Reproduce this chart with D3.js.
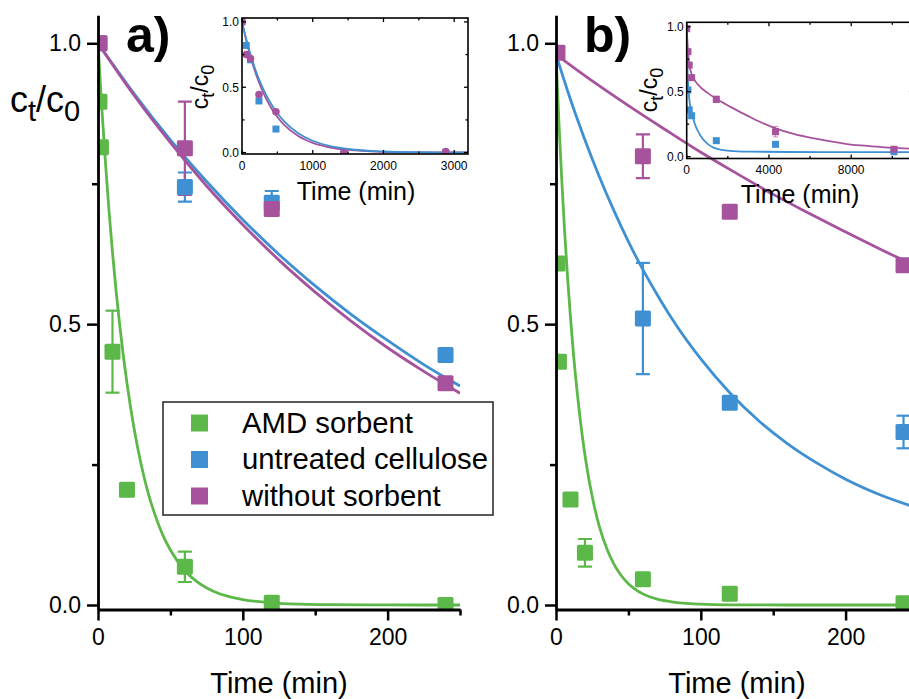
<!DOCTYPE html>
<html>
<head>
<meta charset="utf-8">
<script src="https://cdn.jsdelivr.net/npm/d3@7"></script>
<style>
  html, body { margin: 0; padding: 0; background: #fff; }
  svg { display: block; }
  text { font-family: "Liberation Sans", Arial, sans-serif; fill: #000; }
</style>
</head>
<body>
<svg id="chart" width="909" height="699"></svg>
<script>
// ---------------- DATA ----------------
const seriesNames = ["AMD sorbent", "untreated cellulose", "without sorbent"];
const seriesColors = ["#5cb848", "#3f90d2", "#a6529c"];

// Panel a) measured points
const timeA_amd = [1, 2, 10, 20, 60, 120, 240];
const valA_amd  = [0.896, 0.815, 0.451, 0.205, 0.068, 0.004, 0.0];
const errA_amd  = [0, 0, 0.073, 0.005, 0.027, 0.004, 0];
const timeA_cel = [1, 60, 120, 240];
const valA_cel  = [1.0, 0.744, 0.716, 0.445];
const errA_cel  = [0, 0.026, 0.021, 0];
const timeA_wo  = [1, 60, 120, 240];
const valA_wo   = [1.0, 0.813, 0.705, 0.395];
const errA_wo   = [0, 0.083, 0, 0];

// Panel a) fitted curves (read from picture)
const fitTimeA_amd = [0, 2.5, 5, 7.5, 10, 12.5, 15, 20, 25, 30, 35, 40, 45, 50, 60, 70, 80, 90, 100, 120, 140, 160, 200, 250];
const fitValA_amd  = [1.0, 0.890, 0.793, 0.705, 0.628, 0.559, 0.498, 0.395, 0.313, 0.248, 0.196, 0.156, 0.123, 0.098, 0.061, 0.0386, 0.0242, 0.0152, 0.0096, 0.0038, 0.0015, 0.0006, 0.0001, 0.0];
const fitTimeA_cel = [0, 25, 50, 75, 100, 125, 150, 175, 200, 225, 250];
const fitValA_cel  = [1.0, 0.910, 0.828, 0.754, 0.686, 0.624, 0.568, 0.517, 0.471, 0.428, 0.390];
const fitTimeA_wo  = [0, 25, 50, 75, 100, 125, 150, 175, 200, 225, 250];
const fitValA_wo   = [1.0, 0.907, 0.823, 0.746, 0.677, 0.614, 0.557, 0.505, 0.458, 0.416, 0.377];

// Panel b) measured points
const timeB_amd = [1, 2, 10, 20, 60, 120, 240];
const valB_amd  = [0.608, 0.433, 0.188, 0.093, 0.046, 0.020, 0.003];
const errB_amd  = [0, 0, 0.005, 0.0245, 0.003, 0.004, 0];
const timeB_cel = [60, 120, 240];
const valB_cel  = [0.51, 0.36, 0.308];
const errB_cel  = [0.099, 0.008, 0.029];
const timeB_wo  = [1, 60, 120, 240];
const valB_wo   = [0.983, 0.799, 0.700, 0.605];
const errB_wo   = [0, 0.039, 0.006, 0.006];

// Panel b) fitted curves
const fitTimeB_amd = [0, 2, 4, 6, 8, 10, 12, 15, 18, 21, 25, 30, 35, 40, 45, 50, 60, 70, 80, 100, 120, 160, 250];
const fitValB_amd  = [0.98, 0.860, 0.756, 0.663, 0.583, 0.512, 0.449, 0.370, 0.304, 0.250, 0.193, 0.139, 0.101, 0.0728, 0.0526, 0.038, 0.0198, 0.0104, 0.0054, 0.0015, 0.0004, 0.0, 0.0];
const fitTimeB_cel = [0, 10, 20, 30, 40, 50, 60, 70, 80, 100, 120, 140, 160, 180, 200, 225, 250];
const fitValB_cel  = [0.98, 0.900, 0.828, 0.762, 0.702, 0.647, 0.597, 0.552, 0.510, 0.438, 0.378, 0.328, 0.287, 0.253, 0.224, 0.195, 0.1725];
const fitTimeB_wo  = [0, 25, 50, 75, 100, 125, 150, 175, 200, 225, 250];
const fitValB_wo   = [0.98, 0.933, 0.889, 0.847, 0.806, 0.768, 0.731, 0.697, 0.664, 0.632, 0.602];

// Inset a)
const insetTimeA = [0, 60, 120, 240, 480, 1440, 2880];
const insetValA_cel = [1.0, 0.82, 0.71, 0.395, 0.18, 0.0, 0.0];
const insetValA_wo  = [1.0, 0.751, 0.72, 0.445, 0.312, 0.0, 0.007];
const insetFitTimeA = [0, 100, 200, 300, 400, 500, 600, 800, 1000, 1250, 1500, 2000, 2500, 3000, 3190];
const insetFitA_cel = [1.0, 0.787, 0.619, 0.487, 0.383, 0.301, 0.237, 0.1466, 0.0907, 0.0498, 0.0273, 0.0082, 0.0025, 0.0007, 0.0005];
const insetFitA_wo  = [1.0, 0.771, 0.595, 0.458, 0.353, 0.2725, 0.210, 0.125, 0.0743, 0.0388, 0.0202, 0.0055, 0.0015, 0.0004, 0.0003];

// Inset b)
const insetTimeB_cel = [60, 120, 240, 1440, 4320, 10080];
const insetValB_cel  = [0.513, 0.36, 0.315, 0.123, 0.095, 0.038];
const insetTimeB_wo  = [0, 60, 120, 240, 1440, 4320, 10080];
const insetValB_wo   = [0.985, 0.808, 0.705, 0.608, 0.441, 0.192, 0.057];
const insetErrB_wo   = [0, 0, 0, 0, 0.025, 0.04, 0.01];
const insetFitTimeB_cel = [0, 30, 60, 120, 240, 400, 650, 1000, 1300, 1700, 2100, 3000, 5000, 8000, 11000];
const insetFitB_cel     = [0.98, 0.72, 0.58, 0.45, 0.34, 0.25, 0.167, 0.10, 0.07, 0.053, 0.045, 0.039, 0.036, 0.035, 0.035];
const insetFitTimeB_wo  = [0, 30, 60, 120, 240, 400, 700, 1000, 1440, 2100, 2900, 3600, 4320, 5200, 6200, 7800, 9000, 10100, 11000];
const insetFitB_wo      = [1.0, 0.9, 0.82, 0.72, 0.635, 0.585, 0.53, 0.493, 0.445, 0.385, 0.32, 0.265, 0.218, 0.175, 0.14, 0.097, 0.08, 0.068, 0.06];

// Tick labels
const mainYTicks = [0, 0.5, 1.0];
const mainYMinor = [0.25, 0.75];
const mainXTicks = [0, 100, 200];
const mainXMinor = [50, 150, 250];
const insetAXTicks = [0, 1000, 2000, 3000];
const insetAXMinor = [500, 1500, 2500];
const insetBXTicks = [0, 4000, 8000];
const insetBXMinor = [2000, 6000, 10000];
const insetYTicks = [0, 0.5, 1.0];
const insetYMinor = [0.25, 0.75];

// ---------------- DRAW ----------------
const svg = d3.select("#chart");
const zip = (t, v, e) => t.map((d, i) => ({t: d, v: v[i], e: e ? e[i] : 0}));
const line = (x, y) => d3.line().x(d => x(d.t)).y(d => y(d.v)).curve(d3.curveMonotoneX);

function mainPanel(id, x0, label, pts, fits, showYTitle) {
  const x = d3.scaleLinear().domain([0, 250]).range([x0, x0 + 362]);
  const y = d3.scaleLinear().domain([-0.008, 1.05]).range([609.5, 15.2]);
  const g = svg.append("g");

  g.append("clipPath").attr("id", "clip" + id)
    .append("rect").attr("x", x0).attr("y", 15).attr("width", 362).attr("height", 594.5);

  const plot = g.append("g").attr("clip-path", `url(#clip${id})`);
  // fit curves
  fits.forEach((f, i) => {
    plot.append("path").datum(f).attr("fill", "none")
      .attr("stroke", seriesColors[i]).attr("stroke-width", 2.8)
      .attr("d", line(x, y));
  });
  // error bars first
  pts.forEach((p, i) => {
    const c = seriesColors[i];
    p.filter(d => d.e > 0).forEach(d => {
      const xt = x(d.t), yt = y(d.v + d.e), yb = y(d.v - d.e);
      plot.append("line").attr("x1", xt).attr("x2", xt).attr("y1", yt).attr("y2", yb)
        .attr("stroke", c).attr("stroke-width", 2.2);
      [yt, yb].forEach(yy => plot.append("line").attr("x1", xt - 7).attr("x2", xt + 7)
        .attr("y1", yy).attr("y2", yy).attr("stroke", c).attr("stroke-width", 2.2));
    });
  });
  // squares
  pts.forEach((p, i) => {
    plot.append("g").selectAll("rect").data(p).join("rect")
      .attr("x", d => x(d.t) - 8).attr("y", d => y(d.v) - 8)
      .attr("width", 16).attr("height", 16).attr("rx", 1.5).attr("fill", seriesColors[i]);
  });

  // axes
  const yAxis = d3.axisLeft(y).tickValues(mainYTicks).tickSize(11).tickSizeOuter(0)
    .tickFormat(d3.format(".1f")).tickPadding(6);
  const ya = g.append("g").attr("transform", `translate(${x0},0)`).call(yAxis);
  ya.selectAll("line").attr("stroke-width", 2.5);
  ya.select(".domain").attr("stroke-width", 2.8);
  ya.selectAll("text").attr("font-size", 23).attr("font-family", "Liberation Sans, Arial, sans-serif");
  g.append("g").attr("transform", `translate(${x0},0)`)
    .call(d3.axisLeft(y).tickValues(mainYMinor).tickSize(6).tickSizeOuter(0).tickFormat(""))
    .call(s => s.select(".domain").remove())
    .selectAll("line").attr("stroke-width", 2.5);

  const xAxis = d3.axisBottom(x).tickValues(mainXTicks).tickSize(11).tickSizeOuter(0).tickPadding(8);
  const xa = g.append("g").attr("transform", `translate(0,609.5)`).call(xAxis);
  xa.selectAll("line").attr("stroke-width", 2.5);
  xa.select(".domain").attr("stroke-width", 2.8);
  xa.selectAll("text").attr("font-size", 23).attr("font-family", "Liberation Sans, Arial, sans-serif");
  g.append("g").attr("transform", `translate(0,609.5)`)
    .call(d3.axisBottom(x).tickValues(mainXMinor).tickSize(6).tickSizeOuter(0).tickFormat(""))
    .call(s => s.select(".domain").remove())
    .selectAll("line").attr("stroke-width", 2.5);

  g.append("text").attr("x", x0 + 181).attr("y", 693).attr("text-anchor", "middle")
    .attr("font-size", 29).text("Time (min)");

  g.append("text").attr("x", x0 + 28).attr("y", 52).attr("font-size", 50)
    .attr("font-weight", "bold").text(label);

  if (showYTitle) {
    const t = g.append("text").attr("x", 10).attr("y", 112).attr("font-size", 36);
    t.append("tspan").text("c");
    t.append("tspan").attr("font-size", 29).attr("dy", 9).text("t");
    t.append("tspan").attr("dy", -9).text("/c");
    t.append("tspan").attr("font-size", 29).attr("dy", 9).text("0");
  }
}

mainPanel("A", 98, "a)",
  [zip(timeA_amd, valA_amd, errA_amd), zip(timeA_cel, valA_cel, errA_cel), zip(timeA_wo, valA_wo, errA_wo)],
  [zip(fitTimeA_amd, fitValA_amd), zip(fitTimeA_cel, fitValA_cel), zip(fitTimeA_wo, fitValA_wo)], true);
mainPanel("B", 556, "b)",
  [zip(timeB_amd, valB_amd, errB_amd), zip(timeB_cel, valB_cel, errB_cel), zip(timeB_wo, valB_wo, errB_wo)],
  [zip(fitTimeB_amd, fitValB_amd), zip(fitTimeB_cel, fitValB_cel), zip(fitTimeB_wo, fitValB_wo)], false);

// Legend
const lg = svg.append("g");
lg.append("rect").attr("x", 163).attr("y", 402).attr("width", 330).attr("height", 113)
  .attr("fill", "#fff").attr("stroke", "#222").attr("stroke-width", 1.5);
seriesNames.forEach((n, i) => {
  const cy = 423 + i * 36.5;
  lg.append("rect").attr("x", 191).attr("y", cy - 8.5).attr("width", 17).attr("height", 17)
    .attr("fill", seriesColors[i]);
  lg.append("text").attr("x", 242).attr("y", cy + 9.5).attr("font-size", 29.3).text(n);
});

// Insets
function inset(id, xr, yr, xdom, ydom, xt, xm, fits, pts, labelBase, ytitle, xtitle) {
  const x = d3.scaleLinear().domain(xdom).range(xr);
  const y = d3.scaleLinear().domain(ydom).range(yr);
  const g = svg.append("g");
  g.append("clipPath").attr("id", "clip" + id).append("rect")
    .attr("x", xr[0]).attr("y", yr[1]).attr("width", xr[1] - xr[0]).attr("height", yr[0] - yr[1]);
  const plot = g.append("g").attr("clip-path", `url(#clip${id})`);
  fits.forEach(f => {
    plot.append("path").datum(f.data).attr("fill", "none").attr("stroke", f.color)
      .attr("stroke-width", 1.8).attr("d", line(x, y));
  });
  pts.forEach(p => {
    const c = p.color;
    p.data.filter(d => d.e > 0).forEach(d => {
      const xx = x(d.t);
      plot.append("line").attr("x1", xx).attr("x2", xx).attr("y1", y(d.v + d.e)).attr("y2", y(d.v - d.e))
        .attr("stroke", c).attr("stroke-width", 1).attr("opacity", 0.6);
      [d.v + d.e, d.v - d.e].forEach(v => plot.append("line").attr("x1", xx - 3).attr("x2", xx + 3)
        .attr("y1", y(v)).attr("y2", y(v)).attr("stroke", c).attr("stroke-width", 1).attr("opacity", 0.6));
    });
    if (p.shape === "circle") {
      plot.append("g").selectAll("circle").data(p.data).join("circle")
        .attr("cx", d => x(d.t)).attr("cy", d => y(d.v)).attr("r", 3.8).attr("fill", c);
    } else {
      plot.append("g").selectAll("rect").data(p.data).join("rect")
        .attr("x", d => x(d.t) - 3.5).attr("y", d => y(d.v) - 3.5)
        .attr("width", 7).attr("height", 7).attr("fill", c);
    }
  });
  // box
  g.append("rect").attr("x", xr[0]).attr("y", yr[1]).attr("width", xr[1] - xr[0]).attr("height", yr[0] - yr[1])
    .attr("fill", "none").attr("stroke", "#000").attr("stroke-width", 1.6);
  // ticks inward on all sides
  const tk = g.append("g").attr("stroke", "#000").attr("stroke-width", 1.3);
  xt.concat(xm).forEach(v => {
    const L = xt.includes(v) ? 4 : 2.5, xx = x(v);
    tk.append("line").attr("x1", xx).attr("x2", xx).attr("y1", yr[0]).attr("y2", yr[0] - L);
    tk.append("line").attr("x1", xx).attr("x2", xx).attr("y1", yr[1]).attr("y2", yr[1] + L);
  });
  insetYTicks.concat(insetYMinor).forEach(v => {
    const L = insetYTicks.includes(v) ? 4 : 2.5, yy = y(v);
    tk.append("line").attr("x1", xr[0]).attr("x2", xr[0] + L).attr("y1", yy).attr("y2", yy);
    tk.append("line").attr("x1", xr[1]).attr("x2", xr[1] - L).attr("y1", yy).attr("y2", yy);
  });
  xt.forEach(v => g.append("text").attr("x", x(v)).attr("y", labelBase).attr("text-anchor", "middle")
    .attr("font-size", 12).text(d3.format("d")(v)));
  insetYTicks.forEach(v => g.append("text").attr("x", xr[0] - 3).attr("y", y(v) + 4.3)
    .attr("text-anchor", "end").attr("font-size", 12).text(d3.format(".1f")(v)));
  // y title rotated
  const t = g.append("text").attr("transform", `translate(${ytitle[0]},${ytitle[1]}) rotate(-90)`)
    .attr("text-anchor", "middle").attr("font-size", 23);
  t.append("tspan").text("c");
  t.append("tspan").attr("font-size", 18).attr("dy", 6).text("t");
  t.append("tspan").attr("dy", -6).text("/c");
  t.append("tspan").attr("font-size", 18).attr("dy", 6).text("0");
  g.append("text").attr("x", xtitle[0]).attr("y", xtitle[1]).attr("text-anchor", "middle")
    .attr("font-size", 25).text("Time (min)");
}

inset("IA", [242, 468], [154, 18], [0, 3195], [-0.011, 1.03], insetAXTicks, insetAXMinor,
  [{data: zip(insetFitTimeA, insetFitA_wo), color: seriesColors[2]},
   {data: zip(insetFitTimeA, insetFitA_cel), color: seriesColors[1]}],
  [{data: zip(insetTimeA, insetValA_cel), color: seriesColors[1], shape: "square"},
   {data: zip(insetTimeA, insetValA_wo), color: seriesColors[2], shape: "circle"}],
  170, [208, 87], [356, 200]);

inset("IB", [686.7, 912.9], [158.5, 22.3], [0, 11000], [-0.014, 1.034], insetBXTicks, insetBXMinor,
  [{data: zip(insetFitTimeB_wo, insetFitB_wo), color: seriesColors[2]},
   {data: zip(insetFitTimeB_cel, insetFitB_cel), color: seriesColors[1]}],
  [{data: zip(insetTimeB_cel, insetValB_cel), color: seriesColors[1], shape: "square"},
   {data: zip(insetTimeB_wo, insetValB_wo, insetErrB_wo), color: seriesColors[2], shape: "square"}],
  173.5, [657, 90], [800, 203]);
</script>
</body>
</html>
